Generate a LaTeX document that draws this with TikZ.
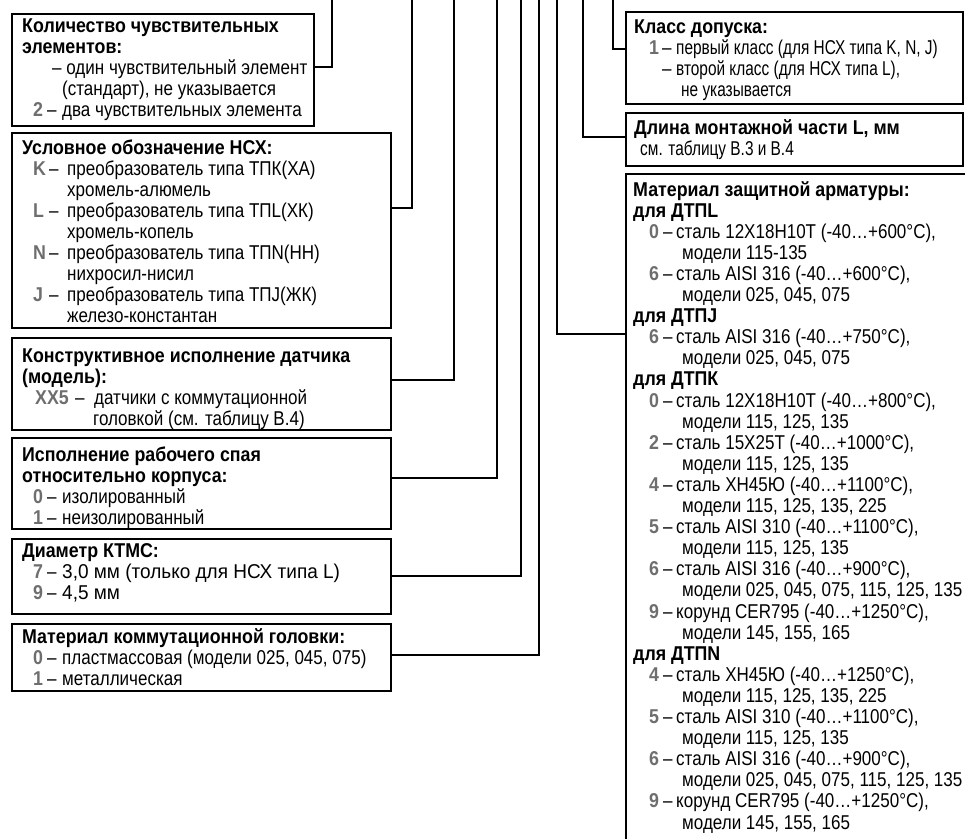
\documentclass[tikz,border=0pt]{standalone}
\usepackage{fontspec}
\setmainfont{Liberation Sans}[UprightFeatures={FakeStretch=0.851}, BoldFeatures={FakeStretch=0.89}]
\newfontfamily\condfont{Liberation Sans}[FakeStretch=0.77]
\newfontfamily\widefont{Liberation Sans}[FakeStretch=0.95]
\usepackage{xcolor}
\definecolor{codegray}{HTML}{6E6E6E}
\usetikzlibrary{calc}
\newlength\cdoff \newlength\cdw \newlength\dsw
\newcommand\cd[1]{\textcolor{codegray}{\bfseries #1}}
\newcommand\itm[2]{\hspace*{\cdoff}\makebox[\cdw][l]{\cd{#1}}\makebox[\dsw][l]{–}#2}
\newcommand\ind[1]{\hspace*{#1}}
\newcommand\cols[3]{\setlength\cdoff{#1}\setlength\cdw{#2}\setlength\dsw{#3}}
\tikzset{
  box/.style={draw, line width=2.2pt, inner sep=0pt, anchor=north west},
  txt/.style={inner sep=0pt, anchor=base west, font=\fontsize{20}{21.1}\selectfont},
  conn/.style={line width=2pt}
}
\begin{document}
\begin{tikzpicture}[x=1pt,y=-1pt]
\useasboundingbox (0,0) rectangle (965,838);
\clip (0,0) rectangle (965,838);
% left boxes
\node[box, minimum width=302pt, minimum height=112pt] (b1) at (11,13) {};
\node[box, minimum width=379pt, minimum height=195pt] (b2) at (11,132) {};
\node[box, minimum width=379pt, minimum height=92pt] (b3) at (11,337) {};
\node[box, minimum width=379pt, minimum height=91pt] (b4) at (11,437) {};
\node[box, minimum width=379pt, minimum height=75pt] (b5) at (11,538) {};
\node[box, minimum width=379pt, minimum height=67pt] (b6) at (11,623) {};
% right boxes
\node[box, minimum width=337pt, minimum height=92pt] (c1) at (625,11) {};
\node[box, minimum width=337pt, minimum height=53pt] (c2) at (625,112) {};
\node[box, minimum width=400pt, minimum height=700pt] (c3) at (625,173) {};
% texts
\node[txt] (t1) at (22,32) {\parbox[t]{400pt}{\cols{11pt}{14pt}{15pt}%
\textbf{Количество чувствительных}\\
\textbf{элементов:}\\
\ind{30pt}– один чувствительный элемент\\
\ind{40pt}(стандарт), не указывается\\
\itm{2}{два чувствительных элемента}}};
\node[txt] (t2) at (22,154) {\parbox[t]{400pt}{\cols{11pt}{16pt}{18pt}%
\textbf{Условное обозначение НСХ:}\\
\itm{K}{преобразователь типа ТПК(ХА)}\\
\ind{45pt}хромель-алюмель\\
\itm{L}{преобразователь типа ТПL(ХК)}\\
\ind{45pt}хромель-копель\\
\itm{N}{преобразователь типа ТПN(НН)}\\
\ind{45pt}нихросил-нисил\\
\itm{J}{преобразователь типа ТПJ(ЖК)}\\
\ind{45pt}железо-константан}};
\node[txt] (t3) at (22,362) {\parbox[t]{400pt}{\cols{13pt}{40pt}{19pt}%
\textbf{Конструктивное исполнение датчика}\\
\textbf{(модель):}\\
\itm{XX5}{датчики с коммутационной}\\
\ind{71pt}головкой (см. таблицу В.4)}};
\node[txt] (t4) at (22,461) {\parbox[t]{400pt}{\cols{11pt}{14pt}{15pt}%
\textbf{Исполнение рабочего спая}\\
\textbf{относительно корпуса:}\\
\itm{0}{изолированный}\\
\itm{1}{неизолированный}}};
\node[txt] (t5) at (22,557) {\parbox[t]{400pt}{\cols{11pt}{14pt}{15pt}%
\textbf{Диаметр КТМС:}\\
\itm{7}{{\widefont 3,0 мм (только для НСХ типа L)}}\\
\itm{9}{{\widefont 4,5 мм}}}};
\node[txt] (t6) at (22,643) {\parbox[t]{400pt}{\cols{11pt}{14pt}{15pt}%
\textbf{Материал коммутационной головки:}\\
\itm{0}{пластмассовая (модели 025, 045, 075)}\\
\itm{1}{металлическая}}};
\node[txt] (u1) at (634,33) {\parbox[t]{400pt}{\cols{15pt}{13pt}{14pt}%
\textbf{Класс допуска:}\\
\itm{1}{{\condfont первый класс (для НСХ типа K, N, J)}}\\
\itm{}{{\condfont второй класс (для НСХ типа L),}}\\
\ind{47pt}{\condfont не указывается}}};
\node[txt] (u2) at (634,134) {\parbox[t]{400pt}{%
\textbf{Длина монтажной части L, мм}\\
\ind{6pt}{\condfont см. таблицу В.3 и В.4}}};
\node[txt] (u3) at (633,196) {\parbox[t]{400pt}{\cols{16pt}{14pt}{13pt}%
\textbf{Материал защитной арматуры:}\\
\textbf{для ДТПL}\\
\itm{0}{сталь 12Х18Н10Т (-40…+600°C),}\\
\ind{49pt}модели 115-135\\
\itm{6}{сталь AISI 316 (-40…+600°C),}\\
\ind{49pt}модели 025, 045, 075\\
\textbf{для ДТПJ}\\
\itm{6}{сталь AISI 316 (-40…+750°C),}\\
\ind{49pt}модели 025, 045, 075\\
\textbf{для ДТПК}\\
\itm{0}{сталь 12Х18Н10Т (-40…+800°C),}\\
\ind{49pt}модели 115, 125, 135\\
\itm{2}{сталь 15Х25Т (-40…+1000°C),}\\
\ind{49pt}модели 115, 125, 135\\
\itm{4}{сталь ХН45Ю (-40…+1100°C),}\\
\ind{49pt}модели 115, 125, 135, 225\\
\itm{5}{сталь AISI 310 (-40…+1100°C),}\\
\ind{49pt}модели 115, 125, 135\\
\itm{6}{сталь AISI 316 (-40…+900°C),}\\
\ind{49pt}модели 025, 045, 075, 115, 125, 135\\
\itm{9}{корунд CER795 (-40…+1250°C),}\\
\ind{49pt}модели 145, 155, 165\\
\textbf{для ДТПN}\\
\itm{4}{сталь ХН45Ю (-40…+1250°C),}\\
\ind{49pt}модели 115, 125, 135, 225\\
\itm{5}{сталь AISI 310 (-40…+1100°C),}\\
\ind{49pt}модели 115, 125, 135\\
\itm{6}{сталь AISI 316 (-40…+900°C),}\\
\ind{49pt}модели 025, 045, 075, 115, 125, 135\\
\itm{9}{корунд CER795 (-40…+1250°C),}\\
\ind{49pt}модели 145, 155, 165}};
% connector free ends
\coordinate (e1) at (332,-3);
\coordinate (e2) at (412,-3);
\coordinate (e3) at (454,-3);
\coordinate (e4) at (497,-3);
\coordinate (e5) at (521,-3);
\coordinate (e6) at (539,-3);
\coordinate (e7) at (557,-3);
\coordinate (e8) at (583,-3);
\coordinate (e9) at (613,-3);
\draw[conn] (e1) |- (b1.east |- 0,67);
\draw[conn] (e2) |- (b2.east |- 0,208);
\draw[conn] (e3) |- (b3.east |- 0,380);
\draw[conn] (e4) |- (b4.east |- 0,478);
\draw[conn] (e5) |- (b5.east |- 0,576);
\draw[conn] (e6) |- (b6.east |- 0,655);
\draw[conn] (e7) |- (c3.west |- 0,334);
\draw[conn] (e8) |- (c2.west |- 0,137);
\draw[conn] (e9) |- (c1.west |- 0,49);
\end{tikzpicture}
\end{document}
